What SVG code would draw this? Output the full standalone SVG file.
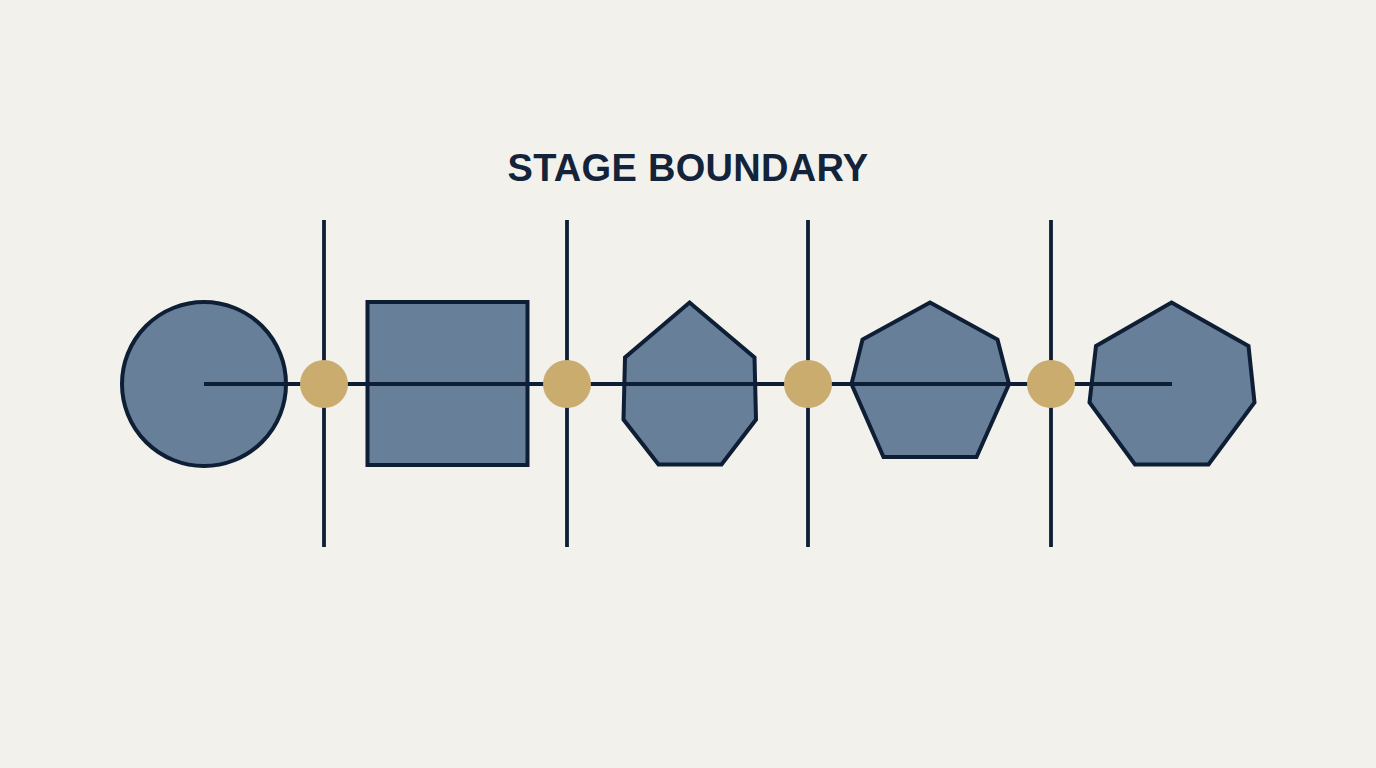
<svg xmlns="http://www.w3.org/2000/svg" width="1376" height="768" viewBox="0 0 1376 768">
<style>
.shape{fill:#687F99;stroke:#0D1E35;stroke-width:4;stroke-linejoin:miter}
.line{stroke:#0D1E35;stroke-width:3.8;fill:none}
.dot{fill:#C9AC6E}
.title{font-family:"Liberation Sans",Arial,sans-serif;font-weight:700;font-size:38px;letter-spacing:0.3px;fill:#13233A}
</style>
<rect width="1376" height="768" fill="#F2F1EC"/>
<text class="title" x="688" y="181" text-anchor="middle">STAGE BOUNDARY</text>
<g id="shape-circle"><circle class="shape" cx="204" cy="384" r="82"/></g>
<g id="shape-square"><rect class="shape" x="367.5" y="302" width="160" height="163"/></g>
<g id="shape-heptagon-1"><polygon class="shape" points="689.5,302.5 754.5,357.5 756,419.5 721.5,464.5 658.5,464.5 623.5,419.5 625,357.5"/></g>
<g id="shape-heptagon-2"><polygon class="shape" points="930,302.5 997.5,339.5 1009,384 976.5,457 883.5,457 851.5,384 862.5,339.5"/></g>
<g id="shape-heptagon-3"><polygon class="shape" points="1171.5,302.5 1248.5,346 1254.5,402.5 1208.5,464.5 1135,464.5 1089.5,402.5 1096,346"/></g>
<g id="connectors">
<line class="line" x1="204" y1="384" x2="1172" y2="384"/>
<line class="line" x1="324" y1="220" x2="324" y2="547"/>
<line class="line" x1="567" y1="220" x2="567" y2="547"/>
<line class="line" x1="808" y1="220" x2="808" y2="547"/>
<line class="line" x1="1051" y1="220" x2="1051" y2="547"/>
</g>
<g id="boundary-dots">
<circle class="dot" cx="324" cy="384" r="24"/>
<circle class="dot" cx="567" cy="384" r="24"/>
<circle class="dot" cx="808" cy="384" r="24"/>
<circle class="dot" cx="1051" cy="384" r="24"/>
</g>
</svg>
